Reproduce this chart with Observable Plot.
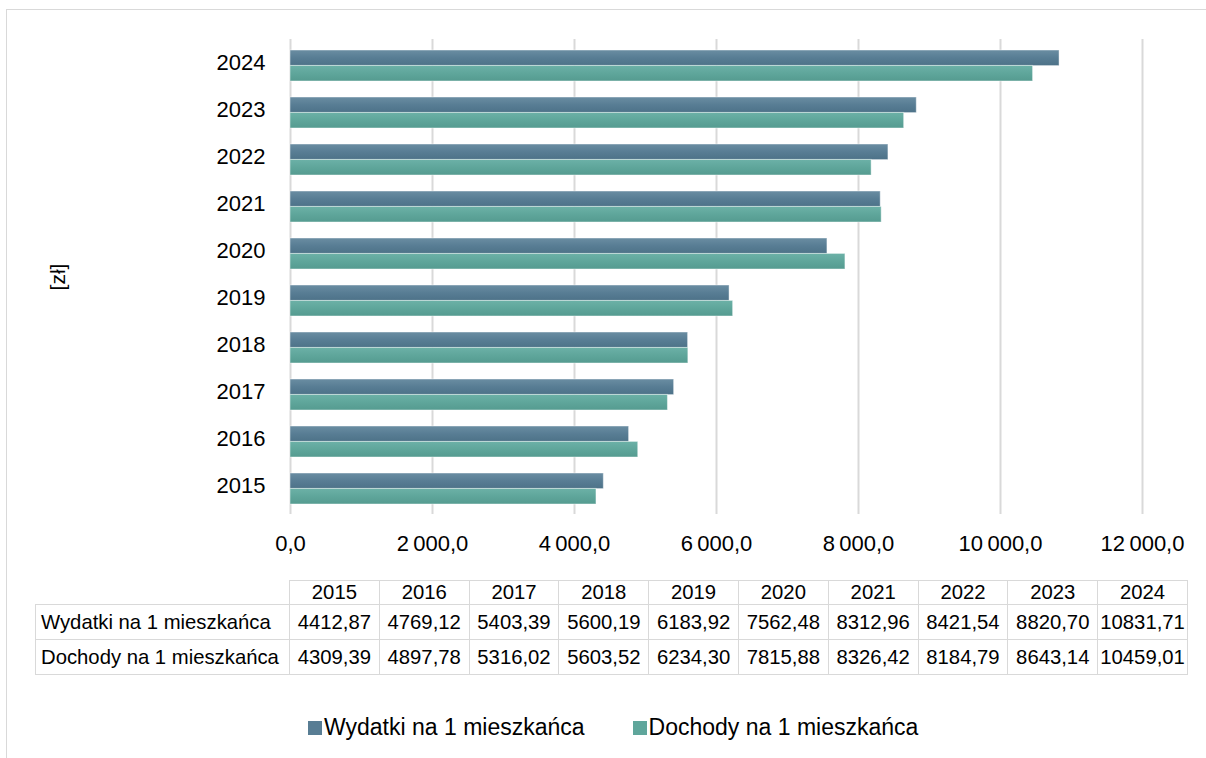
<!DOCTYPE html>
<html>
<head>
<meta charset="utf-8">
<script src="https://cdn.jsdelivr.net/npm/d3@7"></script>
<script src="https://cdn.jsdelivr.net/npm/@observablehq/plot@0.6"></script>
<style>
  html, body { margin: 0; padding: 0; background: #fff; }
  body { width: 1206px; height: 758px; overflow: hidden; position: relative; font-family: "Liberation Sans", Arial, sans-serif; color: #000; }
  #frame { position: absolute; left: 6px; top: 9px; width: 1300px; height: 800px; border-left: 1.5px solid #d9d9d9; border-top: 1.5px solid #d9d9d9; }
  #chart { position: absolute; left: 0; top: 0; }
  #ylab { position: absolute; left: 58px; top: 277px; transform: translate(-50%, -50%) rotate(-90deg); font-size: 21px; white-space: nowrap; }
  #tbl { position: absolute; left: 35px; top: 580px; border-collapse: collapse; table-layout: fixed; font-size: 20.3px; }
  #tbl td { border: 1.5px solid #d9d9d9; text-align: center; padding: 0; white-space: nowrap; overflow: hidden; }
  #tbl tr.h td { height: 23px; line-height: 23px; }
  #tbl tr.d td { height: 34px; line-height: 34px; }
  #tbl td.lab { text-align: left; padding-left: 5px; }
  #tbl td.blank { border-top: none; border-left: none; }
  #legend { position: absolute; left: 308px; top: 714px; display: flex; align-items: center; font-size: 23px; white-space: nowrap; }
  #legend .item { display: flex; align-items: center; }
  #legend .sw { width: 14px; height: 14px; margin-right: 2px; }
</style>
</head>
<body>
<div id="frame"></div>
<div id="chart"></div>
<div id="ylab">[zł]</div>
<table id="tbl"></table>
<div id="legend"></div>
<script>
// ---- data ----
const years = ["2015", "2016", "2017", "2018", "2019", "2020", "2021", "2022", "2023", "2024"];
const wydatki = [4412.87, 4769.12, 5403.39, 5600.19, 6183.92, 7562.48, 8312.96, 8421.54, 8820.70, 10831.71];
const dochody = [4309.39, 4897.78, 5316.02, 5603.52, 6234.30, 7815.88, 8326.42, 8184.79, 8643.14, 10459.01];
const seriesNames = ["Wydatki na 1 mieszkańca", "Dochody na 1 mieszkańca"];
const seriesColors = ["#587d94", "#5fa69b"];
const xTicks = [0, 2000, 4000, 6000, 8000, 10000, 12000];
const tableLabels = ["Wydatki na 1 mieszkańca", "Dochody na 1 mieszkańca"];

// ---- build ----
const rowsW = years.map((y, i) => ({ year: y, series: seriesNames[0], value: wydatki[i] }));
const rowsD = years.map((y, i) => ({ year: y, series: seriesNames[1], value: dochody[i] }));

const axisFmt = d3.formatLocale({ decimal: ",", thousands: "\u2009", grouping: [3] }).format(",.1f");
const cellFmt = d3.formatLocale({ decimal: ",", thousands: "", grouping: [3] }).format(".2f");

function gradDefs() {
  const defs = d3.create("svg:defs");
  const grads = [
    ["gW", ["#6a8da2", "#587d94", "#4d7288"]],
    ["gD", ["#6cb1a7", "#5fa69b", "#559b90"]]
  ];
  for (const [id, stops] of grads) {
    const g = defs.append("linearGradient").attr("id", id)
      .attr("x1", 0).attr("y1", 0).attr("x2", 0).attr("y2", 1);
    stops.forEach((c, i) => g.append("stop").attr("offset", i / (stops.length - 1)).attr("stop-color", c));
  }
  return defs.node();
}

const chart = Plot.plot({
  width: 1206,
  height: 570,
  marginLeft: 290,
  marginRight: 64,
  marginTop: 39,
  marginBottom: 56,
  style: { fontFamily: "'Liberation Sans', Arial, sans-serif", fontSize: "22px", color: "#000", background: "transparent" },
  x: { domain: [0, 12000], ticks: xTicks, tickFormat: axisFmt, tickSize: 0, tickPadding: 21, label: null },
  y: { domain: years.slice().reverse(), paddingInner: 0.35, paddingOuter: 0.175, tickSize: 0, tickPadding: 25, label: null },
  marks: [
    gradDefs,
    Plot.ruleX(xTicks, { stroke: "#d9d9d9", strokeWidth: 2 }),
    Plot.barX(rowsW, { x: "value", y: "year", fill: "url(#gW)", insetBottom: 15.4, stroke: "#ffffff", strokeOpacity: 0.45, strokeWidth: 1 }),
    Plot.barX(rowsD, { x: "value", y: "year", fill: "url(#gD)", insetTop: 15.4, stroke: "#ffffff", strokeOpacity: 0.45, strokeWidth: 1 })
  ]
});
document.getElementById("chart").appendChild(chart);
d3.select(chart).selectAll("[aria-label='y-axis tick label'] text").attr("dy", "-0.13em");

// ---- data table ----
const tbl = d3.select("#tbl");
const colgroup = tbl.append("colgroup");
colgroup.append("col").style("width", "254px");
years.forEach(() => colgroup.append("col").style("width", "89.8px"));
const hr = tbl.append("tr").attr("class", "h");
hr.append("td").attr("class", "blank");
years.forEach(y => hr.append("td").text(y));
[wydatki, dochody].forEach((vals, k) => {
  const tr = tbl.append("tr").attr("class", "d");
  tr.append("td").attr("class", "lab").text(tableLabels[k]);
  vals.forEach(v => tr.append("td").text(cellFmt(v)));
});

// ---- legend ----
const lg = d3.select("#legend");
seriesNames.forEach((name, i) => {
  const it = lg.append("div").attr("class", "item").style("margin-right", i === 0 ? "48px" : "0");
  it.append("div").attr("class", "sw").style("background", seriesColors[i]);
  it.append("span").text(name);
});
</script>
</body>
</html>
